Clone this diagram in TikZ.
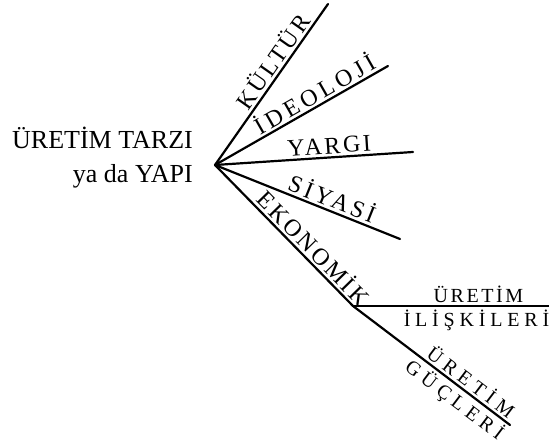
\documentclass[tikz,border=0pt]{standalone}
\usepackage{fontspec}
\setmainfont{Liberation Serif}
\newcommand\trk[2]{{\addfontfeatures{LetterSpace=#1}#2}}

\begin{document}
\begin{tikzpicture}[x=1pt, y=1pt,
  ln/.style={line width=2.2pt, line cap=round},
  lbl/.style={sloped, inner xsep=0pt, inner ysep=2.5pt, font=\fontsize{24}{27}\selectfont},
  sub/.style={sloped, inner xsep=0pt, inner ysep=2.5pt, font=\fontsize{20}{23}\selectfont},
  up/.style={anchor=south, text depth=0pt},
  dn/.style={anchor=north},
  ttl/.style={anchor=base east, inner sep=0pt, font=\fontsize{26}{31}\selectfont}
]
\useasboundingbox (0,0) rectangle (549,445);
% baslik
\node[ttl] (tarz) at (193,296) {ÜRETİM TARZI};
\node[ttl] (yapi) at (193,262) {ya da YAPI};
% dallar
\coordinate (hub) at (215,280);
\coordinate (kultur) at (328,441);
\coordinate (ideoloji) at (388,379);
\coordinate (yargi) at (413,293);
\coordinate (siyasi) at (400,206);
\coordinate (eko) at (353,139);
\coordinate (iliski) at (549,139);
\coordinate (guc) at (510,20);

\draw[ln] (hub) -- node[lbl, up, pos=0.6] (lkultur) {\trk{12}{KÜLTÜR}} (kultur);
\draw[ln] (hub) -- node[lbl, up, pos=0.61] (lideoloji) {\trk{17}{İDEOLOJİ}} (ideoloji);
\draw[ln] (hub) -- node[lbl, up, pos=0.58] (lyargi) {\trk{11}{YARGI}} (yargi);
\draw[ln] (hub) -- node[lbl, up, pos=0.61] (lsiyasi) {\trk{14}{SİYASİ}} (siyasi);
\draw[ln] (hub) -- node[lbl, up, pos=0.65] (leko) {\trk{11}{EKONOMİK}} (eko)
  -- node[sub, up, pos=0.71] (luretim) {\trk{27}{ÜRETİM}}
     node[sub, dn, pos=0.7] (lguc) {\trk{26}{GÜÇLERİ}} (guc);
% uretim iliskileri
\draw[ln] (eko) -- node[sub, up, pos=0.64] (luretim2) {\trk{13}{ÜRETİM}}
  node[sub, dn, pos=0.63] (liliski) {\trk{24}{İLİŞKİLERİ}} (iliski);
\end{tikzpicture}
\end{document}
